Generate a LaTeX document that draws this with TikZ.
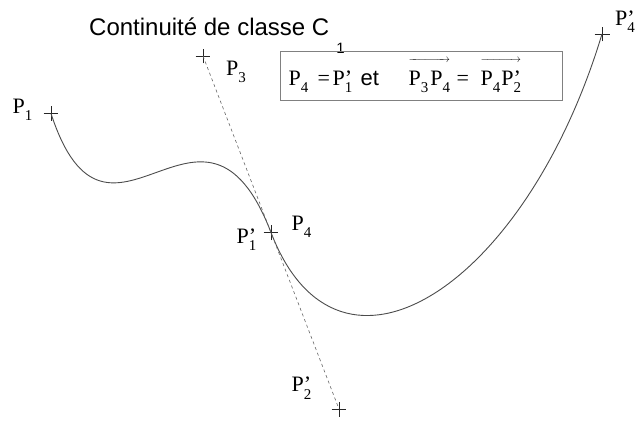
\documentclass[tikz,border=0pt]{standalone}
\usepackage{fontspec}
\setmainfont{Liberation Serif}
\newfontfamily\sansf{Liberation Sans}
\usetikzlibrary{shapes.misc}
\newcommand\subf{\fontsize{15}{15}\selectfont}
\newcommand\Pn[1]{P\raisebox{-7.5pt}{\subf #1}}
\newcommand\Pp[1]{P\rlap{’}\raisebox{-7.5pt}{\subf #1}}
\newcommand\putat[2]{\rlap{\hspace*{#1}#2}}
\newcommand\ovec[1]{\setbox0=\hbox{#1}\rlap{\raisebox{23pt}{\makebox[\wd0]{\fontsize{11}{11}\selectfont\rightarrowfill}}}\box0}
\begin{document}
\begin{tikzpicture}[x=1pt,y=-1pt,
  crs/.style={draw=black!85, cross out, rotate=45, minimum size=10pt, inner sep=0pt, line width=0.6pt},
  lbl/.style={anchor=base west, inner sep=0pt, font=\fontsize{22}{22}\selectfont},
  curve/.style={draw=black!70, line width=0.9pt},
  dline/.style={draw=black!60, line width=0.6pt, dash pattern=on 3pt off 3pt}]
\useasboundingbox (0,0) rectangle (637,421);
\fill[white] (0,0) rectangle (637,421);
\node[crs] (p1) at (51,113.5) {};
\node[crs] (p3) at (203,56) {};
\node[crs] (p4) at (271,232.5) {};
\node[crs] (p2p) at (339,409) {};
\node[crs] (p4p) at (602,34) {};
\coordinate (c1) at (108,288);
\coordinate (c2) at (526,286);
\draw[curve] (p1.center) .. controls (c1) and (p3.center) .. (p4.center);
\draw[curve] (p4.center) .. controls (p2p.center) and (c2) .. (p4p.center);
\draw[dline] (p3.center) -- (p2p.center);
\node[lbl] (l1) at (12.5,113.3) {\Pn{1}};
\node[lbl] (l3) at (226,75) {\Pn{3}};
\node[lbl] (l4) at (291.5,230) {\Pn{4}};
\node[lbl] (l1p) at (236.5,243) {\Pp{1}};
\node[lbl] (l2p) at (291.5,391.5) {\Pp{2}};
\node[lbl] (l4p) at (615,25) {\Pp{4}};
\node[anchor=base west, inner sep=0pt, font=\sansf\fontsize{24}{24}\selectfont] (title) at (89,35) {Continuité de classe C\hspace{7pt}\raisebox{-18pt}{\fontsize{15}{15}\selectfont 1}};
\node[draw=black!50, line width=1.2pt, minimum width=282pt, minimum height=49pt, inner sep=0pt, anchor=north west] (box) at (280,51) {};
\node[lbl] (eq) at (288,85.3) {\putat{0pt}{\Pn{4}}\putat{29pt}{=}\putat{44pt}{\Pp{1}}\putat{72pt}{\sansf et}\putat{120pt}{\ovec{\Pn{3}\hspace{2pt}\Pn{4}}}\putat{168pt}{=}\putat{192pt}{\ovec{\Pn{4}\hspace{1pt}\Pp{2}}}};
\end{tikzpicture}
\end{document}
